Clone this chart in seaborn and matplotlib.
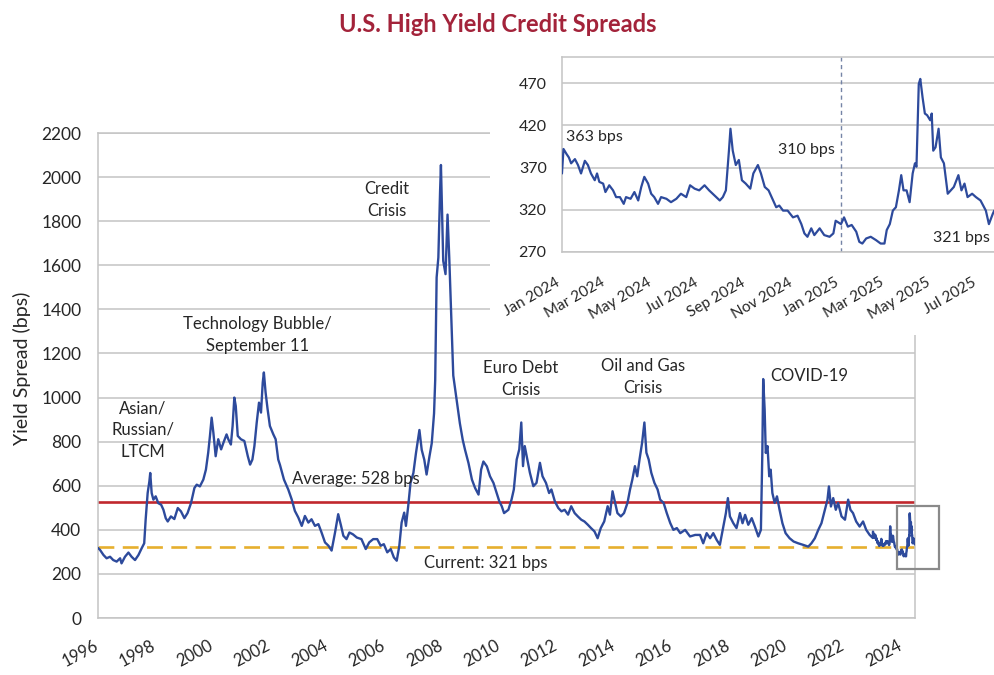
import numpy as np
import pandas as pd
import matplotlib
matplotlib.use("Agg")
import matplotlib.pyplot as plt
import matplotlib.dates as mdates
from matplotlib.patches import Rectangle
import seaborn as sns

# main series, 1997 to end of 2023 (decimal year, bps)
main_year = [
    1997.00, 1997.07, 1997.19, 1997.30, 1997.42, 1997.53, 1997.65, 1997.77, 1997.82, 1997.94,
    1998.06, 1998.17, 1998.29, 1998.41, 1998.52, 1998.61, 1998.66, 1998.73, 1998.79, 1998.82,
    1998.87, 1998.93, 1999.01, 1999.10, 1999.20, 1999.28, 1999.36, 1999.43, 1999.54, 1999.66,
    1999.78, 1999.89, 2000.01, 2000.12, 2000.24, 2000.36, 2000.44, 2000.55, 2000.67, 2000.76,
    2000.84, 2000.90, 2000.96, 2001.02, 2001.10, 2001.19, 2001.29, 2001.37, 2001.48, 2001.54,
    2001.63, 2001.69, 2001.75, 2001.80, 2001.87, 2001.98, 2002.10, 2002.22, 2002.30, 2002.38,
    2002.45, 2002.53, 2002.61, 2002.68, 2002.74, 2002.78, 2002.84, 2002.91, 2002.99, 2003.11,
    2003.19, 2003.28,
    2003.34, 2003.48, 2003.63, 2003.75, 2003.86, 2003.98, 2004.10, 2004.21, 2004.33, 2004.44,
    2004.56, 2004.68, 2004.79, 2004.91, 2005.03, 2005.14, 2005.26, 2005.37, 2005.47, 2005.55,
    2005.66, 2005.76, 2005.88, 2006.02, 2006.18, 2006.33, 2006.45, 2006.59, 2006.73, 2006.85,
    2006.96, 2007.08, 2007.20, 2007.31, 2007.41, 2007.50, 2007.58, 2007.67, 2007.73, 2007.81,
    2007.89, 2007.99, 2008.08, 2008.20, 2008.28, 2008.37, 2008.45, 2008.55, 2008.63, 2008.71,
    2008.75, 2008.80, 2008.86, 2008.92, 2008.95, 2009.03, 2009.11, 2009.18, 2009.24, 2009.32,
    2009.38, 2009.50, 2009.61, 2009.71, 2009.79, 2009.91, 2010.03, 2010.14, 2010.26, 2010.35,
    2010.43, 2010.55, 2010.66, 2010.78, 2010.89, 2010.98,
    2011.07, 2011.15, 2011.30, 2011.41, 2011.49, 2011.59, 2011.68, 2011.75, 2011.81, 2011.87,
    2011.96, 2012.05, 2012.17, 2012.28, 2012.40, 2012.49, 2012.61, 2012.72, 2012.80, 2012.92,
    2013.04, 2013.15, 2013.26, 2013.38, 2013.49, 2013.61, 2013.72, 2013.84, 2013.95, 2014.07,
    2014.18, 2014.30, 2014.41, 2014.52, 2014.64, 2014.76, 2014.84, 2014.93, 2015.02, 2015.10,
    2015.22, 2015.33, 2015.45, 2015.54, 2015.62, 2015.71, 2015.79, 2015.87, 2015.96, 2016.04,
    2016.11, 2016.19, 2016.28, 2016.39, 2016.50, 2016.59, 2016.71, 2016.82, 2016.94, 2017.05,
    2017.17, 2017.29, 2017.46, 2017.63, 2017.81,
    2017.98, 2018.09, 2018.21, 2018.33, 2018.44, 2018.56, 2018.67, 2018.79, 2018.88, 2018.95,
    2019.02, 2019.14, 2019.25, 2019.37, 2019.46, 2019.55, 2019.66, 2019.78, 2019.89, 2020.01,
    2020.10, 2020.15, 2020.18, 2020.23, 2020.27, 2020.33, 2020.39, 2020.44, 2020.50, 2020.58,
    2020.66, 2020.75, 2020.85, 2020.96, 2021.10, 2021.24, 2021.40, 2021.57, 2021.75, 2021.86,
    2021.98, 2022.10, 2022.21, 2022.33, 2022.42, 2022.47, 2022.54, 2022.62, 2022.71, 2022.79,
    2022.91, 2023.03, 2023.14, 2023.22, 2023.31, 2023.42, 2023.54, 2023.66, 2023.77, 2023.89,
]
main_bps = [
    318, 309, 286, 271, 278, 263, 256, 271, 248, 278,
    297, 278, 263, 286, 316, 339, 446, 567, 620, 658,
    567, 537, 552, 521, 514, 491, 453, 438, 461, 449,
    499, 484, 453, 476, 521, 590, 605, 597, 628, 673,
    750, 825, 909, 841, 734, 811, 765, 795, 833, 811,
    787, 871, 1000, 962, 826, 811, 803, 734, 696, 719,
    780, 886, 977, 932, 1068, 1114, 1023, 947, 871, 833,
    811, 719,
    695, 628, 583, 538, 486, 456, 418, 463, 433, 448,
    418, 426, 388, 343, 328, 306, 388, 471, 418, 373,
    358, 388, 380, 365, 358, 313, 343, 358, 358, 328,
    335, 298, 313, 275, 260, 328, 433, 478, 418, 508,
    613, 658, 748, 853, 763, 718, 651, 733, 793, 928,
    1078, 1545, 1635, 1935, 2055, 1620, 1560, 1830, 1635, 1335,
    1100, 988, 883, 808, 763, 703, 628, 590, 560, 673,
    710, 688, 643, 613, 568, 531,
    507, 476, 491, 537, 583, 719, 765, 887, 689, 780,
    719, 659, 598, 613, 704, 643, 613, 567, 583, 529,
    499, 484, 491, 469, 507, 476, 461, 446, 438, 423,
    408, 393, 362, 408, 438, 507, 469, 575, 522, 476,
    461, 476, 522, 583, 628, 689, 643, 719, 795, 887,
    750, 719, 659, 613, 583, 537, 522, 476, 431, 400,
    408, 385, 400, 370, 377,
    377, 339, 385, 362, 385, 354, 332, 415, 476, 544,
    461, 430, 408, 476, 430, 468, 423, 453, 415, 370,
    400, 749, 1084, 947, 749, 780, 643, 673, 567, 522,
    552, 491, 430, 385, 362, 347, 339, 332, 324, 339,
    362, 400, 430, 491, 537, 597, 506, 544, 491, 522,
    461, 446, 537, 491, 476, 438, 415, 438, 400, 377,
]

# inset series, days since 1 Jan 2024
inset_day = [0, 2, 6, 9, 12, 17, 21, 25, 30, 34, 38, 43, 46, 49, 54, 57, 62, 67, 71, 76,
             81, 84, 90, 95, 100, 104, 108, 113, 117, 121, 126, 130, 137, 143, 150, 156, 163, 168, 174, 180,
             187, 193, 200, 207, 211, 215, 219, 221, 224, 228, 232, 236, 241, 247, 251, 257, 261, 266, 271, 276,
             281, 285, 290, 296, 303, 309, 314, 318, 322, 327, 331, 338, 344, 351, 356, 359, 366, 370, 375, 380,
             386, 390, 394, 399, 405, 412, 418, 423, 426, 430, 434, 438, 442, 445, 448, 452, 456, 460, 463, 465,
             468, 470, 473, 476, 479, 483, 485, 487, 490, 494, 497, 501, 506, 510, 514, 520, 524, 528, 532, 538,
             543, 549, 556, 560, 565, 567]
inset_bps = [363, 392, 386, 382, 375, 380, 373, 363, 378, 373, 363, 355, 363, 353, 351, 341, 349, 343, 335, 335,
             327, 335, 333, 341, 331, 347, 359, 351, 339, 335, 327, 335, 333, 329, 333, 339, 335, 349, 345, 343,
             349, 343, 337, 331, 335, 343, 390, 416, 390, 373, 379, 355, 351, 345, 363, 373, 363, 347, 343, 333,
             323, 325, 319, 319, 311, 313, 303, 292, 288, 298, 290, 298, 290, 288, 292, 307, 303, 311, 300, 302,
             294, 282, 280, 286, 288, 284, 280, 280, 296, 303, 319, 323, 343, 361, 343, 343, 329, 363, 375, 371,
             469, 475, 453, 434, 432, 426, 434, 390, 394, 416, 382, 375, 339, 343, 347, 361, 343, 351, 335, 339,
             335, 331, 319, 303, 315, 319]

average_bps = 528
current_bps = 321
year_labels = list(range(1996, 2025, 2))
main_yticks = list(range(0, 2201, 200))
inset_yticks = [270, 320, 370, 420, 470]

assert len(main_year) == len(main_bps)
assert len(inset_day) == len(inset_bps)

BLUE = "#2D4A9C"
RED = "#C0272D"
GOLD = "#E6AF2E"
GRID = "#C4C4C4"
TXT = "#262626"

sns.set_theme(style="white")
plt.rcParams["font.family"] = ["Lato", "DejaVu Sans"]
plt.rcParams["text.color"] = TXT
plt.rcParams["xtick.color"] = TXT
plt.rcParams["ytick.color"] = TXT

start = pd.Timestamp("2024-01-01")
inset_dates = start + pd.to_timedelta(inset_day, unit="D")
tail_year = 2024 + np.array(inset_day) / 365.25

all_year = np.concatenate([main_year, tail_year])
all_bps = np.concatenate([main_bps, inset_bps])

fig = plt.figure(figsize=(9.95, 6.75), dpi=100)

# ---- main chart
ax = fig.add_axes([0.0985, 0.0844, 0.8211, 0.7185])
ax.set_axisbelow(True)
ax.yaxis.grid(True, color=GRID, lw=1.1)
ax.axhline(average_bps, color=RED, lw=1.9, zorder=2)
ax.axhline(current_bps, color=GOLD, lw=1.9, dashes=(6, 3.2), zorder=2)
sns.lineplot(x=all_year, y=all_bps, ax=ax, color=BLUE, lw=1.7, estimator=None, sort=False, zorder=3)

ax.set_xlim(1997.0, 2025.47)
ax.set_ylim(0, 2200)
ax.set_yticks(main_yticks)
# the source's year labels sit about a year right of their dates
ax.set_xticks([y + 1.1 for y in year_labels])
ax.set_xticklabels([str(y) for y in year_labels], rotation=28, ha="right")
ax.tick_params(axis="x", length=0, pad=14, labelsize=12)
ax.tick_params(axis="y", length=0, pad=12, labelsize=12.5)
ax.set_xlabel("")
ax.set_ylabel("")
for s in ax.spines.values():
    s.set_color(GRID)
    s.set_linewidth(1.1)

ax.add_patch(Rectangle((2024.84, 222), 1.46, 286, fill=False, ec="#8A8A8A", lw=1.6,
                       clip_on=False, zorder=4))

kw = dict(fontsize=12, color=TXT, linespacing=1.45)
ax.text(1998.57, 853, "Asian/\nRussian/\nLTCM", ha="center", va="center", **kw)
ax.text(2002.57, 1283, "Technology Bubble/\nSeptember 11", ha="center", va="center", **kw)
ax.text(2007.07, 1896, "Credit\nCrisis", ha="center", va="center", **kw)
ax.text(2011.74, 1084, "Euro Debt\nCrisis", ha="center", va="center", **kw)
ax.text(2015.99, 1093, "Oil and Gas\nCrisis", ha="center", va="center", **kw)
ax.text(2020.41, 1098, "COVID-19", ha="left", va="center", **kw)
ax.text(2003.76, 630, f"Average: {average_bps} bps", ha="left", va="center", **kw)
ax.text(2008.36, 249, f"Current: {current_bps} bps", ha="left", va="center", **kw)

fig.text(0.022, 0.455, "Yield Spread (bps)", rotation=90, ha="center", va="center",
         fontsize=14, color=TXT)
fig.text(0.5, 0.964, "U.S. High Yield Credit Spreads", ha="center", va="center",
         fontsize=17, weight="bold", color="#A3233A",
         family=["Liberation Sans Narrow", "Lato", "DejaVu Sans"])

# white backing behind the inset
cover = fig.add_axes([0.4925, 0.5037, 0.5075, 0.437], facecolor="white")
cover.set_xticks([])
cover.set_yticks([])
for s in cover.spines.values():
    s.set_visible(False)
cover.set_zorder(2)

# ---- inset
ins = fig.add_axes([0.5648, 0.6267, 0.4352, 0.2889])
ins.set_zorder(3)
ins.set_axisbelow(True)
ins.yaxis.grid(True, color=GRID, lw=1.1)
ins.axvline(pd.Timestamp("2025-01-01"), color="#7584A6", lw=1.0, dashes=(3, 2.5), zorder=2)
sns.lineplot(x=inset_dates, y=inset_bps, ax=ins, color=BLUE, lw=1.6, estimator=None, sort=False, zorder=3)
ins.set_xlim(start, start + pd.Timedelta(days=568))
ins.set_ylim(270, 501)
ins.set_yticks(inset_yticks)
ins.xaxis.set_major_locator(mdates.MonthLocator(bymonth=[1, 3, 5, 7, 9, 11]))
ins.xaxis.set_major_formatter(mdates.DateFormatter("%b %Y"))
plt.setp(ins.get_xticklabels(), rotation=30, ha="right")
ins.tick_params(axis="x", length=0, pad=17, labelsize=11)
ins.tick_params(axis="y", length=0, pad=11, labelsize=11.5)
ins.set_xlabel("")
ins.set_ylabel("")
for name, s in ins.spines.items():
    s.set_color(GRID)
    s.set_linewidth(1.1)
ins.spines["right"].set_visible(False)

ikw = dict(fontsize=11.5, color=TXT, va="center")
ins.text(start + pd.Timedelta(days=5), 406, "363 bps", ha="left", **ikw)
ins.text(start + pd.Timedelta(days=358), 391, "310 bps", ha="right", **ikw)
ins.text(start + pd.Timedelta(days=561), 287, "321 bps", ha="right", **ikw)

fig.savefig("out.png", dpi=100)
